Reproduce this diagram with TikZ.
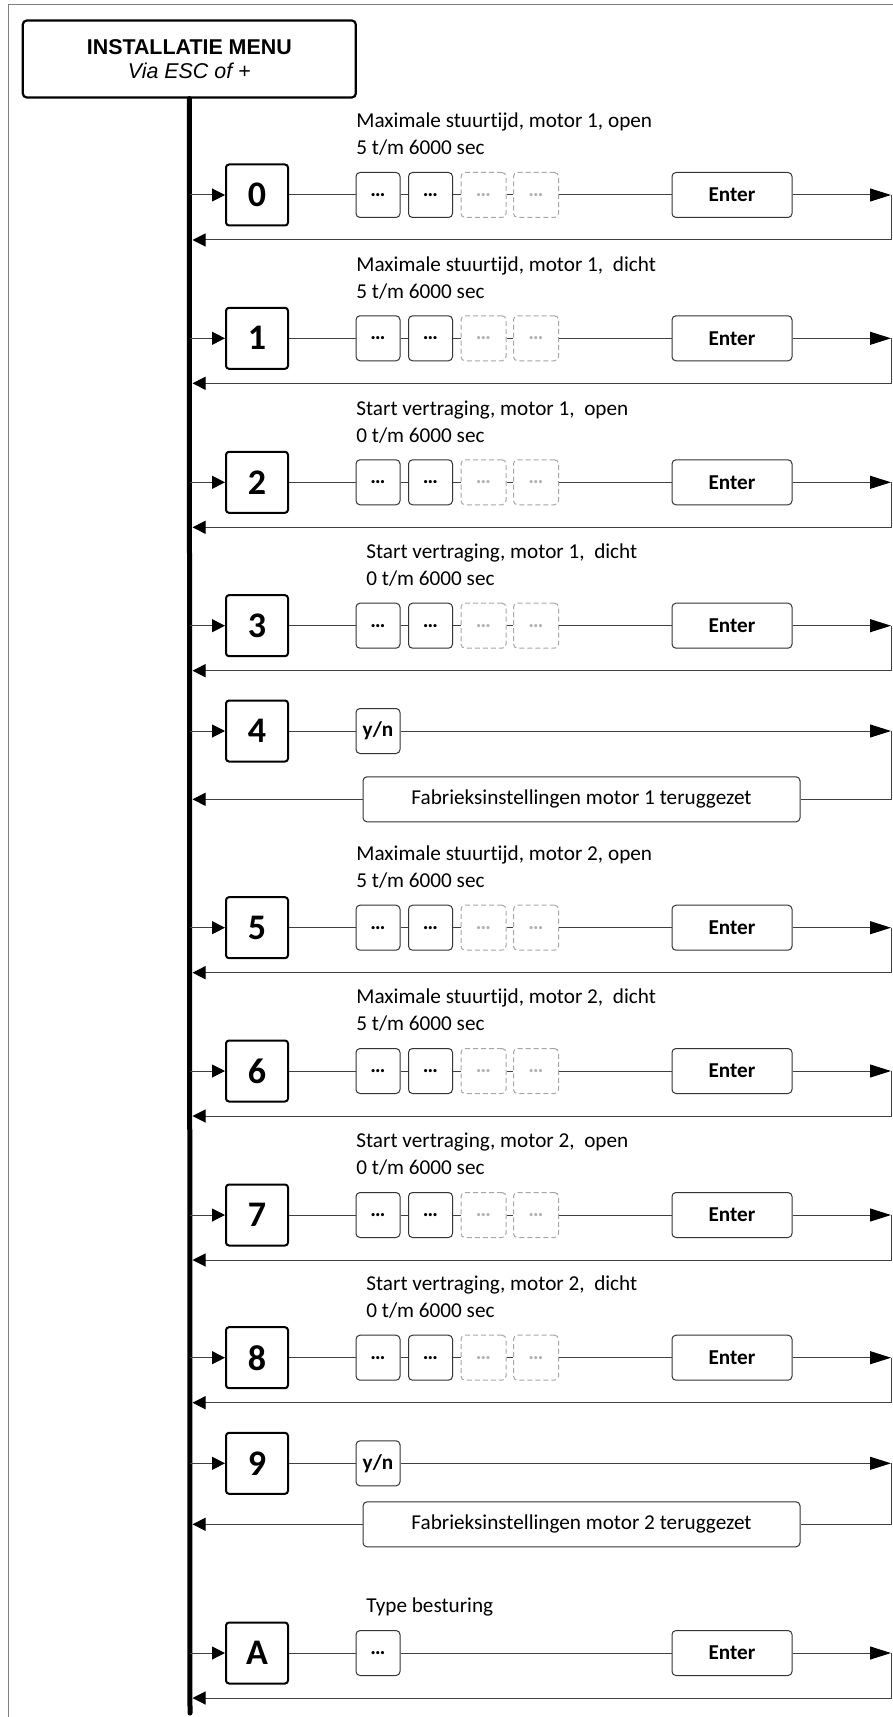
\documentclass[tikz,border=0pt]{standalone}
\usepackage{fontspec}
\setmainfont{Carlito}[Ligatures=NoCommon]
\newfontfamily\arialfont{Liberation Sans}
\usetikzlibrary{arrows.meta}

\begin{document}
\begin{tikzpicture}[x=0.5pt,y=-0.5pt,
  wire/.style={black!75,line width=0.5pt},
  into/.style={-{Triangle[length=6.5pt,width=6.5pt,color=black]}},
  bigtip/.style={-{Triangle[length=10.5pt,width=6.5pt,color=black]}},
  box/.style={draw=black!80,line width=0.5pt,rounded corners=2pt,inner sep=0pt,minimum height=22.5pt,font=\fontsize{10.6}{12}\selectfont\bfseries},
  numbox/.style={draw,line width=1pt,rounded corners=1.5pt,inner sep=0pt,minimum width=31pt,minimum height=30.5pt,font=\fontsize{18}{18}\selectfont\bfseries},
  valbox/.style={box,minimum width=22pt},
  ghostbox/.style={box,minimum width=22.5pt,draw=black!35,dash pattern=on 2.5pt off 1.5pt,text=black!30},
  enterbox/.style={box,minimum width=60pt},
  infobox/.style={box,minimum width=218.5pt,font=\fontsize{10.6}{12}\selectfont},
  rowtext/.style={align=left,inner sep=0pt,font=\fontsize{10.6}{13.5}\selectfont}]
\useasboundingbox (0,0) rectangle (893,1717);
\draw[black!50,line width=0.5pt] (8,1717) |- (893,5);

\node[draw,line width=1.1pt,rounded corners=2pt,minimum width=166.5pt,minimum height=38.5pt,align=center,
  font=\arialfont\fontsize{10.7}{11.75}\selectfont] (menu) at (189.3,59) {\textbf{INSTALLATIE MENU}\\\textit{Via ESC of +}};
\coordinate (busend) at (190,1713);
\draw[line width=2.5pt,line cap=round] (menu.south) -- (busend);

\foreach \row/\ypos/\tx/\what/\lo in {
  0/195/356/{Maximale stuurtijd, motor 1, open}/5,
  1/338.3/356/{Maximale stuurtijd, motor 1, \ dicht}/5,
  2/482.3/356/{Start vertraging, motor 1, \ open}/0,
  3/625.7/366/{Start vertraging, motor 1, \ dicht}/0,
  5/927.7/356/{Maximale stuurtijd, motor 2, open}/5,
  6/1071/356/{Maximale stuurtijd, motor 2, \ dicht}/5,
  7/1215/356/{Start vertraging, motor 2, \ open}/0,
  8/1357.7/366/{Start vertraging, motor 2, \ dicht}/0} {
  \node[numbox] (n\row) at (257,\ypos) {\row};
  \node[rowtext,anchor=west] (t\row) at (\tx,\ypos-60.5) {\what\\\lo\ t/m 6000 sec};
  \node[valbox] (a\row) at (378,\ypos) {…};
  \node[valbox] (b\row) at (430.5,\ypos) {…};
  \node[ghostbox] (g\row) at (483.5,\ypos) {…};
  \node[ghostbox] (h\row) at (536,\ypos) {…};
  \node[enterbox] (e\row) at (732,\ypos) {Enter};
  \coordinate (s\row) at (190,\ypos);
  \coordinate (o\row) at (891,\ypos);
  \coordinate (r\row) at (891,\ypos+45);
  \coordinate (l\row) at (192.5,\ypos+45);
  \draw[wire,into] (s\row) -- (n\row);
  \draw[wire] (n\row) -- (a\row) (a\row) -- (b\row) (b\row) -- (g\row) (g\row) -- (h\row) (h\row) -- (e\row);
  \draw[wire,bigtip] (e\row) -- (o\row);
  \draw[wire,into] (o\row) -- (r\row) -- (l\row);
}

\foreach \row/\ypos/\fy/\m in {4/731/799.3/1, 9/1463.3/1524.3/2} {
  \node[numbox] (n\row) at (257,\ypos) {\row};
  \node[valbox] (a\row) at (378,\ypos) {y/n};
  \node[infobox] (f\row) at (581.5,\fy) {Fabrieksinstellingen motor \m{} teruggezet};
  \coordinate (s\row) at (190,\ypos);
  \coordinate (o\row) at (891,\ypos);
  \coordinate (r\row) at (891,\fy);
  \coordinate (l\row) at (192.5,\fy);
  \draw[wire,into] (s\row) -- (n\row);
  \draw[wire] (n\row) -- (a\row);
  \draw[wire,bigtip] (a\row) -- (o\row);
  \draw[wire] (o\row) -- (r\row) -- (f\row);
  \draw[wire,into] (f\row) -- (l\row);
}

\node[numbox] (nA) at (257,1653) {A};
\node[rowtext,anchor=base west] (tA) at (366,1612) {Type besturing};
\node[valbox] (aA) at (378,1653) {…};
\node[enterbox] (eA) at (732,1653) {Enter};
\coordinate (sA) at (190,1653);
\coordinate (oA) at (891,1653);
\coordinate (rA) at (891,1698);
\coordinate (lA) at (192.5,1698);
\draw[wire,into] (sA) -- (nA);
\draw[wire] (nA) -- (aA) (aA) -- (eA);
\draw[wire,bigtip] (eA) -- (oA);
\draw[wire,into] (oA) -- (rA) -- (lA);
\end{tikzpicture}
\end{document}
